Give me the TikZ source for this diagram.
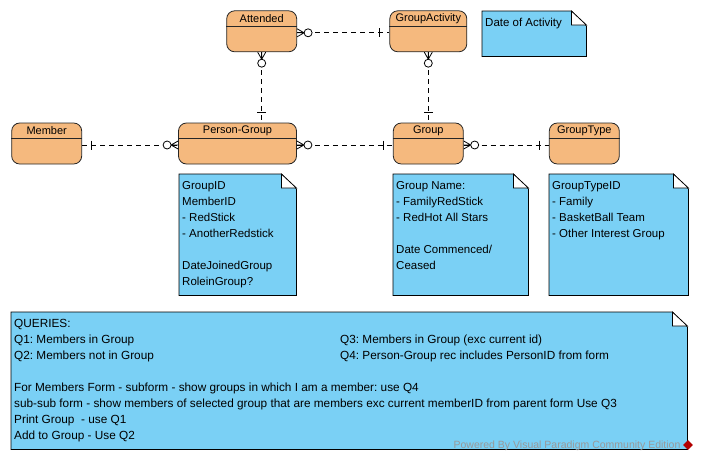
\documentclass[tikz,border=0pt]{standalone}
\usepackage{fontspec}
\setmainfont{Liberation Sans}
\frenchspacing
\usetikzlibrary{decorations.markings}

\definecolor{entityorange}{RGB}{245,185,126}
\definecolor{noteblue}{RGB}{122,208,245}
\newcommand{\notefont}{\fontsize{11.5}{16}\selectfont}
% folded-corner outline of a note frame node
\newcommand{\foldnote}[1]{%
  \filldraw[notefill] (#1.north west) -- ([xshift=-15pt]#1.north east) -- ([yshift=-15pt]#1.north east) -- (#1.south east) -- (#1.south west) -- cycle;
  \filldraw[notefill, fill=white] ([xshift=-15pt]#1.north east) -- ([xshift=-15pt,yshift=-14pt]#1.north east) -- ([yshift=-14pt]#1.north east) -- cycle;}

\begin{document}
\begin{tikzpicture}[x=1pt, y=-1pt,
  entity/.style={draw=black!85, line width=0.8pt, fill=entityorange, rounded corners=8pt, minimum height=41pt, inner sep=0pt},
  enttitle/.style={font=\fontsize{11}{13}\selectfont, inner sep=0pt},
  notebox/.style={anchor=north west, inner sep=0pt, draw=none},
  notefill/.style={fill=noteblue, draw=black, line width=0.8pt},
  notetext/.style={anchor=north west, inner sep=0pt, font=\notefont},
  rel/.style={line width=0.8pt, dash pattern=on 5pt off 4pt},
  zmany start/.style={postaction={decorate, decoration={markings, mark=at position 0 with {
      \draw[solid] (0,4pt) -- (7pt,0) -- (0,-4pt) (0,0) -- (7pt,0);
      \draw[solid, fill=white] (11pt,0) circle (4pt);}}}},
  zmany end/.style={postaction={decorate, decoration={markings, mark=at position 1 with {
      \draw[solid] (0,4pt) -- (-7pt,0) -- (0,-4pt) (0,0) -- (-7pt,0);
      \draw[solid, fill=white] (-11pt,0) circle (4pt);}}}},
  one start/.style={postaction={decorate, decoration={markings, mark=at position 0 with {
      \draw[solid] (9pt,4.5pt) -- (9pt,-4.5pt);}}}},
  one end/.style={postaction={decorate, decoration={markings, mark=at position 1 with {
      \draw[solid] (-10pt,4.5pt) -- (-10pt,-4.5pt);}}}}
]
\useasboundingbox (0,0) rectangle (701,463);
% Entities
\foreach \n/\t/\x/\y/\w in {attended/Attended/261.7/31.3/70, gactivity/GroupActivity/428.3/31.3/77,
    member/Member/46.7/143.5/70, pgroup/Person-Group/237.5/143.5/118,
    group/Group/428.3/143.5/70, gtype/GroupType/584.3/143.5/70} {
  \node[entity, minimum width=\w pt] (\n) at (\x,\y) {};
  \draw[draw=black!85, line width=0.8pt] ([yshift=-16pt]\n.north west) -- ([yshift=-16pt]\n.north east);
  \node[enttitle] (\n-title) at ([yshift=-8pt]\n.north) {\t};
}
% Relationships
\draw[rel, zmany start, one end] ([yshift=-1.5pt]attended.east) -- ([yshift=-1.5pt]gactivity.west);
\draw[rel, zmany start, one end] (attended.south) -- (attended.south |- pgroup.north);
\draw[rel, zmany start, one end] (gactivity.south) -- (gactivity.south |- group.north);
\draw[rel, one start, zmany end] ([yshift=-1.5pt]member.east) -- ([yshift=-1.5pt]pgroup.west);
\draw[rel, zmany start, one end] ([yshift=-1.5pt]pgroup.east) -- ([yshift=-1.5pt]group.west);
\draw[rel, zmany start, one end] ([yshift=-1.5pt]group.east) -- ([yshift=-1.5pt]gtype.west);
% Notes
\node[notebox, minimum width=104pt, minimum height=45pt] (danote) at (482,11) {};
\foldnote{danote}
\node[notetext] (datext) at ([shift={(3pt,-4pt)}]danote.north west) {\begin{tabular}{@{}l@{}}Date of Activity\end{tabular}};

\node[notebox, minimum width=117pt, minimum height=121pt] (pgnote) at (179,174) {};
\foldnote{pgnote}
\node[notetext] (pgtext) at ([shift={(3pt,-4pt)}]pgnote.north west) {\begin{tabular}{@{}l@{}}
GroupID\\ MemberID\\ - RedStick\\ - AnotherRedstick\\ \\ DateJoinedGroup\\ RoleinGroup?\end{tabular}};

\node[notebox, minimum width=135pt, minimum height=121pt] (gnote) at (393,174) {};
\foldnote{gnote}
\node[notetext] (gtext) at ([shift={(3pt,-4pt)}]gnote.north west) {\begin{tabular}{@{}l@{}}
Group Name:\\ - FamilyRedStick\\ - RedHot All Stars\\ \\ Date Commenced/\\ Ceased\end{tabular}};

\node[notebox, minimum width=139pt, minimum height=121pt] (gtnote) at (549,174) {};
\foldnote{gtnote}
\node[notetext] (gttext) at ([shift={(3pt,-4pt)}]gtnote.north west) {\begin{tabular}{@{}l@{}}
GroupTypeID\\ - Family\\ - BasketBall Team\\ - Other Interest Group\end{tabular}};

\node[notebox, minimum width=676pt, minimum height=137pt] (qnote) at (11,312) {};
\foldnote{qnote}
\node[notetext, font=\fontsize{11.8}{16}\selectfont] (qtext) at ([shift={(3pt,-4pt)}]qnote.north west) {\begin{tabular}{@{}p{326pt}@{}l@{}}
QUERIES: & \\
Q1: Members in Group & Q3: Members in Group (exc current id)\\
Q2: Members not in Group & Q4: Person-Group rec includes PersonID from form\\
 & \\
\multicolumn{2}{@{}l@{}}{For Members Form - subform - show groups in which I am a member: use Q4}\\
\multicolumn{2}{@{}l@{}}{sub-sub form - show members of selected group that are members exc current memberID from parent form Use Q3}\\
Print Group\ \ - use Q1 & \\
Add to Group - Use Q2 & \end{tabular}};
% Watermark
\node[font=\fontsize{10.5}{12}\selectfont, text=black!40, inner sep=0pt] (vpmark) at (567,446) {Powered By Visual Paradigm Community Edition};
\node[fill=red!70!black, rotate=45, minimum size=7pt, inner sep=0pt] (vplogo) at (688,445) {};
\end{tikzpicture}
\end{document}
